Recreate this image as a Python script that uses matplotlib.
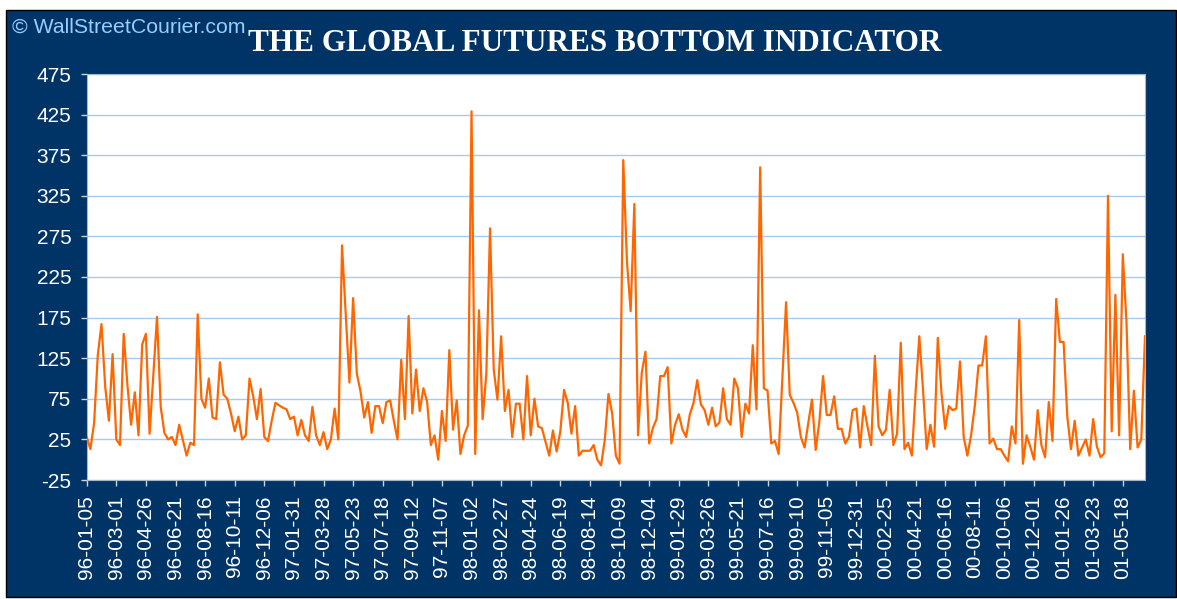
import numpy as np
import matplotlib
matplotlib.use("Agg")
import matplotlib.pyplot as plt
from matplotlib.patches import Rectangle

# weekly indicator readings, 96-01-05 .. 01-07
values = [
    28, 13, 45, 129, 167, 90, 48, 130, 25, 18,
    155, 92, 43, 83, 30, 142, 155, 32, 104, 176,
    65, 33, 25, 28, 18, 43, 24, 5, 21, 18,
    179, 75, 64, 100, 52, 50, 120, 80, 75, 57,
    35, 53, 25, 30, 100, 78, 50, 87, 28, 23,
    48, 70, 67, 64, 62, 50, 53, 30, 49, 30,
    23, 65, 30, 18, 34, 13, 25, 63, 25, 264,
    180, 95, 199, 106, 84, 52, 71, 33, 66, 66,
    45, 71, 73, 48, 25, 123, 50, 177, 57, 111,
    60, 88, 71, 18, 30, 0, 60, 23, 135, 37,
    73, 7, 30, 42, 429, 7, 184, 50, 106, 285,
    111, 74, 152, 60, 86, 28, 69, 69, 25, 103,
    30, 75, 41, 39, 22, 5, 36, 10, 35, 86,
    70, 32, 66, 5, 11, 11, 11, 18, 0, -7,
    24, 81, 57, 5, -5, 369, 244, 183, 315, 30,
    107, 133, 20, 39, 50, 103, 103, 114, 20, 43,
    56, 37, 28, 56, 70, 98, 68, 61, 43, 64,
    41, 46, 88, 50, 43, 100, 88, 28, 69, 57,
    141, 62, 360, 88, 85, 20, 23, 7, 100, 194,
    80, 70, 58, 28, 15, 45, 74, 12, 47, 103,
    55, 55, 78, 38, 38, 20, 28, 61, 63, 15,
    66, 41, 18, 128, 41, 30, 37, 86, 18, 32,
    144, 13, 21, 5, 83, 152, 87, 13, 43, 16,
    150, 82, 38, 66, 61, 63, 121, 28, 5, 30,
    66, 116, 116, 152, 20, 26, 13, 13, 5, -2,
    41, 20, 172, -5, 30, 16, 0, 61, 18, 3,
    71, 23, 198, 145, 145, 53, 13, 48, 5, 15,
    25, 5, 50, 16, 3, 8, 325, 35, 203, 30,
    253, 169, 13, 85, 15, 25, 152,
]

# one label every 8 weeks
date_labels = ['96-01-05', '96-03-01', '96-04-26', '96-06-21', '96-08-16', '96-10-11',
               '96-12-06', '97-01-31', '97-03-28', '97-05-23', '97-07-18', '97-09-12',
               '97-11-07', '98-01-02', '98-02-27', '98-04-24', '98-06-19', '98-08-14',
               '98-10-09', '98-12-04', '99-01-29', '99-03-26', '99-05-21', '99-07-16',
               '99-09-10', '99-11-05', '99-12-31', '00-02-25', '00-04-21', '00-06-16',
               '00-08-11', '00-10-06', '00-12-01', '01-01-26', '01-03-23', '01-05-18']
label_step = 8
y_ticks = list(range(-25, 476, 50))

navy = '#003366'
W, H = 1177, 599

fig = plt.figure(figsize=(W / 100, H / 100), dpi=100, facecolor='white')
fig.patches.append(Rectangle((6 / W, 2 / H), 1170 / W, 587 / H, transform=fig.transFigure,
                             facecolor=navy, edgecolor='black', linewidth=1, zorder=-10))

ax = fig.add_axes([86.7 / W, (H - 480) / H, (1145 - 86.7) / W, (480 - 74) / H])
ax.set_zorder(1)
ax.set_facecolor('white')

x = np.arange(len(values))
ax.plot(x, values, color='#ff6600', linewidth=1.6, zorder=3)

ax.set_xlim(0, len(values) - 1)
ax.set_ylim(-25, 475)
ax.set_yticks(y_ticks)
ax.set_yticklabels([str(t) for t in y_ticks], color='white', family='Liberation Sans', fontsize=15)
ax.set_xticks(np.arange(len(date_labels)) * label_step)
ax.set_xticklabels(date_labels, rotation=90, color='white', family='Liberation Sans', fontsize=15)

ax.grid(axis='y', color='#a6caf0', linewidth=1)
ax.set_axisbelow(True)
ax.tick_params(axis='both', colors='#c8d4e0', length=4, width=1, pad=7)
ax.tick_params(axis='both', labelcolor='white')
for s in ax.spines.values():
    s.set_color('#a6b8cc')
    s.set_linewidth(0.8)

fig.text(595 / W, 1 - 50.7 / H, 'THE GLOBAL FUTURES BOTTOM INDICATOR', ha='center', va='baseline',
         color='white', family='Liberation Serif', fontweight='bold', fontsize=22.5)
fig.text(12 / W, 1 - 32.7 / H, '\u00a9 WallStreetCourier.com', ha='left', va='baseline',
         color='#99ccff', family='Liberation Sans', fontsize=15.3)

fig.savefig('out.png', dpi=100, facecolor=fig.get_facecolor())
